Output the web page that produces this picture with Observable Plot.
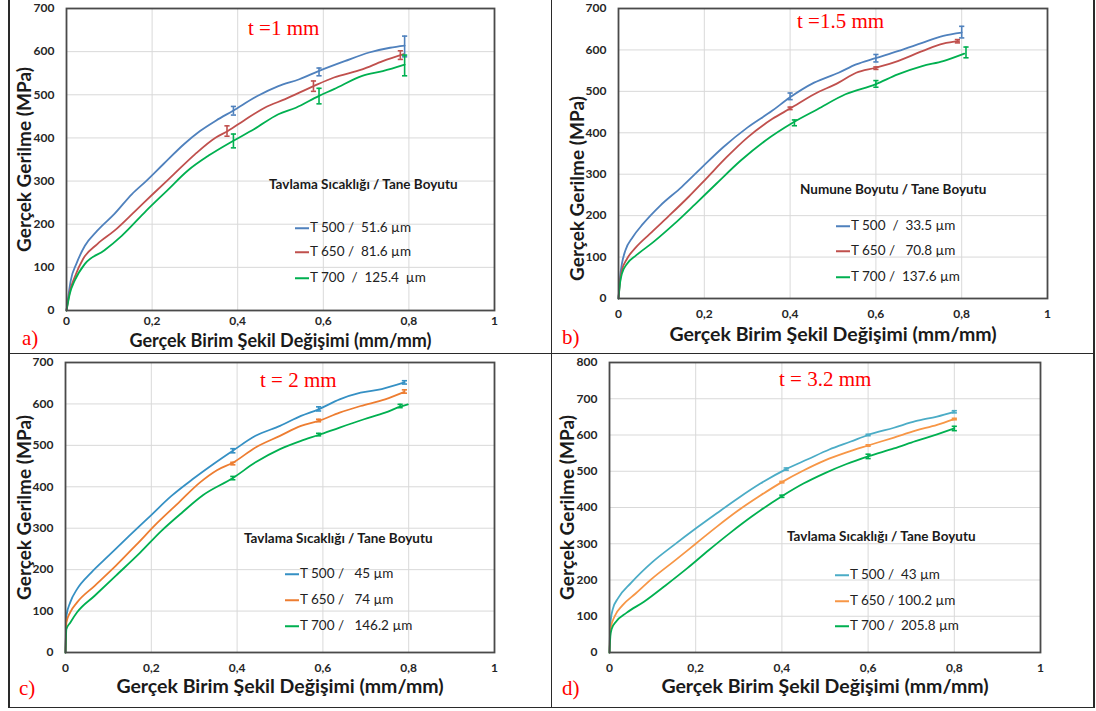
<!DOCTYPE html>
<html><head><meta charset="utf-8">
<script src="https://cdn.jsdelivr.net/npm/d3@7"></script>
<script src="https://cdn.jsdelivr.net/npm/@observablehq/plot@0.6"></script>
<style>
body{margin:0;background:#fff;}
#wrap{position:relative;width:1096px;height:711px;overflow:hidden;font-family:Lato,"Open Sans",sans-serif;background:#fff;}
.panel{position:absolute;}
.red{position:absolute;font-family:"Liberation Serif","Times New Roman",serif;color:#ff0000;font-size:21px;white-space:pre;line-height:1;transform:translateY(-50%);}
.lgt{position:absolute;font-weight:700;font-size:13.5px;color:#1a1a1a;white-space:pre;line-height:1;transform:translateY(-50%);}
.lgi{position:absolute;font-size:13.5px;color:#222;white-space:pre;line-height:1;transform:translateY(-50%);display:flex;align-items:center;}
.lgi i{display:inline-block;width:14px;height:0;border-top:2px solid;margin-right:1px;}
.ln{position:absolute;background:#2a2a2a;}
</style></head>
<body><div id="wrap"></div>
<script>
// ---------- data ----------
const xTicks = [0, 0.2, 0.4, 0.6, 0.8, 1];
const yTicks700 = [0, 100, 200, 300, 400, 500, 600, 700];
const yTicks800 = [0, 100, 200, 300, 400, 500, 600, 700, 800];
const xTitle = "Gerçek Birim Şekil Değişimi (mm/mm)";
const yTitle = "Gerçek Gerilme (MPa)";
const panelTitles = ["t =1 mm", "t =1.5 mm", "t = 2 mm", "t = 3.2 mm"];
const panelTags = ["a)", "b)", "c)", "d)"];
const legendTitles = ["Tavlama Sıcaklığı / Tane Boyutu", "Numune Boyutu / Tane Boyutu", "Tavlama Sıcaklığı / Tane Boyutu", "Tavlama Sıcaklığı / Tane Boyutu"];
const legendA = ["T 500 /  51.6 µm", "T 650 /  81.6 µm", "T 700  /  125.4  µm"];
const legendB = ["T 500  /  33.5 µm", "T 650 /   70.8 µm", "T 700 /  137.6 µm"];
const legendC = ["T 500 /   45 µm", "T 650 /   74 µm", "T 700 /   146.2 µm"];
const legendD = ["T 500 /  43 µm", "T 650 / 100.2 µm", "T 700 /  205.8 µm"];

// panel a (t = 1 mm): [strain, stress]
const a500 = [[0,0],[0.01,70],[0.023,108],[0.043,150],[0.072,185],[0.112,224],[0.153,270],[0.186,300],[0.226,339],[0.275,386],[0.312,416],[0.349,440],[0.389,463],[0.446,497],[0.495,520],[0.544,536],[0.589,555],[0.65,578],[0.707,598],[0.756,609],[0.79,614]];
const a650 = [[0,0],[0.008,45],[0.019,77],[0.039,120],[0.072,154],[0.112,185],[0.161,231],[0.202,270],[0.251,316],[0.3,362],[0.349,401],[0.377,416],[0.414,440],[0.463,470],[0.511,490],[0.577,520],[0.625,540],[0.691,559],[0.739,578],[0.788,594]];
const a700 = [[0,0],[0.008,40],[0.019,69],[0.043,108],[0.088,139],[0.129,173],[0.186,231],[0.235,278],[0.283,324],[0.332,359],[0.389,393],[0.438,420],[0.495,455],[0.536,470],[0.589,497],[0.625,513],[0.691,544],[0.739,555],[0.79,570]];
// error bars: [strain, stress, ±]
const aErr500 = [[0.39,463,10],[0.59,553,9],[0.79,612,24]];
const aErr650 = [[0.375,416,12],[0.577,520,12],[0.78,592,10]];
const aErr700 = [[0.39,393,16],[0.59,497,18],[0.79,568,24]];

// panel b (t = 1.5 mm)
const b500 = [[0,0],[0.004,55],[0.008,84],[0.016,116],[0.033,148],[0.057,180],[0.098,225],[0.147,269],[0.195,317],[0.244,365],[0.301,413],[0.358,453],[0.399,485],[0.456,521],[0.513,545],[0.554,565],[0.599,580],[0.651,597],[0.708,617],[0.757,634],[0.8,642]];
const b650 = [[0,0],[0.004,45],[0.008,68],[0.02,96],[0.041,124],[0.073,156],[0.114,196],[0.163,245],[0.204,289],[0.252,341],[0.301,389],[0.358,433],[0.401,459],[0.456,493],[0.513,521],[0.554,545],[0.599,557],[0.651,573],[0.708,597],[0.757,615],[0.794,621]];
const b700 = [[0,0],[0.004,40],[0.008,60],[0.02,84],[0.041,104],[0.081,136],[0.13,180],[0.179,228],[0.228,277],[0.285,333],[0.342,381],[0.407,425],[0.464,457],[0.529,493],[0.599,517],[0.651,541],[0.708,561],[0.757,573],[0.806,591]];
const bErr500 = [[0.4,488,8],[0.6,580,9],[0.8,643,14]];
const bErr650 = [[0.4,459,3],[0.6,556,3],[0.79,621,4]];
const bErr700 = [[0.41,424,7],[0.6,518,8],[0.81,594,13]];

// panel c (t = 2 mm)
const c500 = [[0,0],[0.001,50],[0.002,88],[0.011,121],[0.027,153],[0.06,193],[0.1,233],[0.149,282],[0.198,330],[0.247,378],[0.296,418],[0.345,455],[0.39,487],[0.443,523],[0.5,547],[0.549,571],[0.59,587],[0.639,611],[0.688,627],[0.737,636],[0.79,652]];
const c650 = [[0,0],[0.001,40],[0.002,72],[0.011,97],[0.027,121],[0.068,161],[0.117,209],[0.166,261],[0.215,314],[0.264,362],[0.313,410],[0.353,440],[0.39,458],[0.443,495],[0.5,523],[0.549,547],[0.59,559],[0.639,579],[0.688,595],[0.745,611],[0.79,629]];
const c700 = [[0,0],[0.001,35],[0.002,56],[0.011,72],[0.027,97],[0.068,137],[0.117,185],[0.174,241],[0.223,293],[0.272,338],[0.321,380],[0.39,421],[0.443,459],[0.5,491],[0.549,511],[0.59,525],[0.639,543],[0.696,563],[0.745,579],[0.782,594],[0.798,599]];
const cErr500 = [[0.39,487,5],[0.59,588,5],[0.79,652,4]];
const cErr650 = [[0.39,456,3],[0.59,560,3],[0.79,630,4]];
const cErr700 = [[0.39,421,4],[0.59,526,3],[0.78,595,4]];

// panel d (t = 3.2 mm)
const d500 = [[0,0],[0.001,50],[0.003,90],[0.008,121],[0.02,150],[0.05,192],[0.1,250],[0.15,297],[0.2,342],[0.25,385],[0.3,427],[0.35,466],[0.41,506],[0.46,533],[0.51,560],[0.56,582],[0.6,600],[0.66,620],[0.71,638],[0.76,651],[0.8,664]];
const d650 = [[0,0],[0.001,40],[0.003,68],[0.012,100],[0.03,130],[0.06,162],[0.1,205],[0.15,252],[0.2,300],[0.25,348],[0.3,393],[0.35,433],[0.4,470],[0.45,502],[0.5,530],[0.55,552],[0.6,571],[0.66,593],[0.71,612],[0.76,628],[0.8,644]];
const d700 = [[0,0],[0.001,25],[0.002,45],[0.005,65],[0.015,85],[0.04,110],[0.08,140],[0.13,185],[0.18,232],[0.23,282],[0.28,330],[0.33,375],[0.4,431],[0.45,466],[0.5,495],[0.55,520],[0.6,541],[0.66,563],[0.71,583],[0.76,602],[0.8,618]];
const dErr500 = [[0.41,506,3],[0.6,600,2],[0.8,664,3]];
const dErr650 = [[0.4,470,2],[0.6,571,2],[0.8,644,2]];
const dErr700 = [[0.4,431,3],[0.6,541,6],[0.8,618,6]];

const colorsAB = ["#4f81bd", "#c0504d", "#00b050"];
const colorsC = ["#3590c4", "#ed7d31", "#00b050"];
const colorsD = ["#4bacc6", "#f79646", "#00b050"];

// ---------- layout ----------
const panels = [
  {left:0, top:0, w:551, h:353, ml:66, mr:57, mt:8, mb:43, yTicks:yTicks700, yMax:700,
   series:[a500,a650,a700], errs:[aErr500,aErr650,aErr700], colors:colorsAB, legend:legendA,
   xTitleDy:36, xTitleSize:18, xTickPad:6, yTitleDx:-41.5, yTitleDy:0,
   title:[248,28], tag:[22,338], lgTitle:[269,185], lgLine:295, lgYs:[228,252,278]},
  {left:551, top:0, w:545, h:353, ml:67, mr:49, mt:8, mb:55, yTicks:yTicks700, yMax:700,
   series:[b500,b650,b700], errs:[bErr500,bErr650,bErr700], colors:colorsAB, legend:legendB,
   xTitleDy:42, xTitleSize:19.5, xTickPad:11, yTitleDx:-41, yTitleDy:35,
   title:[797,21], tag:[562,337], lgTitle:[800,190], lgLine:836, lgYs:[226,251,277]},
  {left:0, top:353, w:551, h:358, ml:65, mr:57, mt:9, mb:59, yTicks:yTicks700, yMax:700,
   series:[c500,c650,c700], errs:[cErr500,cErr650,cErr700], colors:colorsC, legend:legendC,
   xTitleDy:40, xTitleSize:19.5, xTickPad:11, yTitleDx:-40.5, yTitleDy:0,
   title:[260,380], tag:[19,688], lgTitle:[244,539], lgLine:285, lgYs:[574,600,626]},
  {left:551, top:353, w:545, h:358, ml:58, mr:56, mt:9, mb:59, yTicks:yTicks800, yMax:800,
   series:[d500,d650,d700], errs:[dErr500,dErr650,dErr700], colors:colorsD, legend:legendD,
   xTitleDy:40, xTitleSize:19.5, xTickPad:11, yTitleDx:-42, yTitleDy:0,
   title:[779,379], tag:[562,688], lgTitle:[787,537], lgLine:835, lgYs:[575,601,626]}
];

const capSymbol = {draw(ctx, size){ const r = Math.sqrt(size / Math.PI); ctx.moveTo(-r, 0); ctx.lineTo(r, 0); }};
const fmtX = d => String(d).replace(".", ",");
const wrap = document.getElementById("wrap");

panels.forEach((p, i) => {
  const marks = [
    Plot.gridX(xTicks, {stroke:"#d9d9d9", strokeOpacity:1, strokeWidth:1}),
    Plot.gridY(p.yTicks, {stroke:"#d9d9d9", strokeOpacity:1, strokeWidth:1}),
    Plot.axisX(xTicks, {tickSize:0, tickPadding:p.xTickPad, tickFormat:fmtX, label:null, fontWeight:700, fontSize:12, fill:"#262626"}),
    Plot.axisY(p.yTicks, {tickSize:0, tickPadding:12, label:null, fontWeight:700, fontSize:12, fill:"#262626"})
  ];
  p.series.forEach((s, k) => {
    marks.push(Plot.line(s, {x:d => d[0], y:d => d[1], stroke:p.colors[k], strokeWidth:1.8, curve:"monotone-x"}));
  });
  p.errs.forEach((e, k) => {
    marks.push(Plot.ruleX(e, {x:d => d[0], y1:d => d[1] - d[2], y2:d => d[1] + d[2], stroke:p.colors[k], strokeWidth:1.6}));
    marks.push(Plot.dot(e, {x:d => d[0], y:d => d[1] - d[2], symbol:capSymbol, r:2.6, stroke:p.colors[k], strokeWidth:1.6, fill:"none"}));
    marks.push(Plot.dot(e, {x:d => d[0], y:d => d[1] + d[2], symbol:capSymbol, r:2.6, stroke:p.colors[k], strokeWidth:1.6, fill:"none"}));
  });
  marks.push(Plot.frame({stroke:"#4a4a4a", strokeWidth:1.8}));
  marks.push(Plot.text([xTitle], {frameAnchor:"bottom", dy:p.xTitleDy, textAnchor:"middle", fontSize:p.xTitleSize, fontWeight:700, fill:"#1a1a1a"}));
  marks.push(Plot.text([yTitle], {frameAnchor:"left", dx:p.yTitleDx, dy:p.yTitleDy, textAnchor:"middle", rotate:-90, fontSize:19, fontWeight:700, fill:"#1a1a1a"}));

  const chart = Plot.plot({
    width:p.w, height:p.h,
    marginLeft:p.ml, marginRight:p.mr, marginTop:p.mt, marginBottom:p.mb,
    x:{domain:[0,1]}, y:{domain:[0,p.yMax]},
    style:{fontFamily:"Lato, 'Open Sans', sans-serif", background:"transparent", overflow:"visible"},
    marks
  });
  chart.classList.add("panel");
  chart.style.left = p.left + "px";
  chart.style.top = p.top + "px";
  wrap.appendChild(chart);

  const t = document.createElement("div");
  t.className = "red"; t.textContent = panelTitles[i];
  t.style.left = p.title[0] + "px"; t.style.top = p.title[1] + "px";
  wrap.appendChild(t);

  const g = document.createElement("div");
  g.className = "red"; g.textContent = panelTags[i];
  g.style.left = p.tag[0] + "px"; g.style.top = p.tag[1] + "px";
  wrap.appendChild(g);

  const lt = document.createElement("div");
  lt.className = "lgt"; lt.textContent = legendTitles[i];
  lt.style.left = p.lgTitle[0] + "px"; lt.style.top = p.lgTitle[1] + "px";
  wrap.appendChild(lt);

  p.legend.forEach((txt, k) => {
    const it = document.createElement("div");
    it.className = "lgi";
    it.style.left = p.lgLine + "px"; it.style.top = p.lgYs[k] + "px";
    const sw = document.createElement("i"); sw.style.borderColor = p.colors[k];
    it.appendChild(sw);
    it.appendChild(document.createTextNode(txt));
    wrap.appendChild(it);
  });
});

// panel divider lines
[[8,0,1.5,707],[550.5,0,1.5,708],[1093,0,1.5,708],[8,352.5,1086,1.5],[8,706.5,1086,1.5]].forEach(([x,y,w,h]) => {
  const d = document.createElement("div"); d.className = "ln";
  d.style.left = x + "px"; d.style.top = y + "px"; d.style.width = w + "px"; d.style.height = h + "px";
  wrap.appendChild(d);
});
</script></body></html>
